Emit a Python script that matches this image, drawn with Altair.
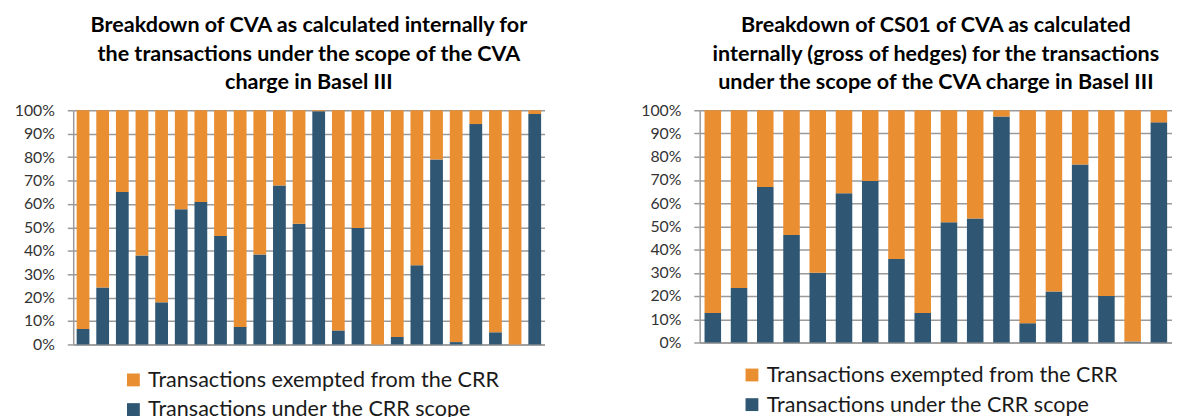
import altair as alt
import pandas as pd

EXEMPT = "Transactions exempted from the CRR"
SCOPE = "Transactions under the CRR scope"

left_title = ["Breakdown of CVA as calculated internally for",
              "the transactions under the scope of the CVA",
              "charge in Basel III"]
right_title = ["Breakdown of CS01 of CVA as calculated",
               "internally (gross of hedges) for the transactions",
               "under the scope of the CVA charge in Basel III"]

left_scope = [6.6, 24.3, 65.1, 38.0, 18.0, 57.7, 60.8, 46.3, 7.5, 38.4, 67.9, 51.5,
              99.6, 6.0, 49.7, 0.0, 3.2, 33.8, 79.0, 1.0, 94.1, 5.2, 0.0, 98.4]
left_exempt = [93.4, 75.7, 34.9, 62.0, 82.0, 42.3, 39.2, 53.7, 92.5, 61.6, 32.1, 48.5,
               0.4, 94.0, 50.3, 100.0, 96.8, 66.2, 21.0, 99.0, 5.9, 94.8, 100.0, 1.6]

right_scope = [12.7, 23.5, 67.0, 46.3, 30.0, 64.3, 69.5, 36.0, 12.7, 51.8, 53.4, 97.3,
               8.3, 22.0, 76.6, 20.0, 0.4, 94.8]
right_exempt = [87.3, 76.5, 33.0, 53.7, 70.0, 35.7, 30.5, 64.0, 87.3, 48.2, 46.6, 2.7,
                91.7, 78.0, 23.4, 80.0, 99.6, 5.2]

tick_values = [0, 10, 20, 30, 40, 50, 60, 70, 80, 90, 100]

ORANGE = "#E98E31"
BLUE = "#2F5672"
GRID = "#9a9a9a"
FONT = "Lato"


def make_df(scope, exempt):
    rows = []
    for i, (s, e) in enumerate(zip(scope, exempt)):
        rows.append({"idx": i + 1, "category": SCOPE, "value": s, "ord": 0})
        rows.append({"idx": i + 1, "category": EXEMPT, "value": e, "ord": 1})
    return pd.DataFrame(rows)


def panel(df, title, width, height, pad, title_offset, lx, ly):
    return alt.Chart(df).mark_bar().encode(
        x=alt.X("idx:O",
                scale=alt.Scale(paddingInner=pad, paddingOuter=pad / 2),
                axis=alt.Axis(labels=False, ticks=False, title=None,
                              domainColor=GRID, domainWidth=1.5)),
        y=alt.Y("value:Q", stack="zero",
                scale=alt.Scale(domain=[0, 100], nice=False),
                axis=alt.Axis(values=tick_values, labelExpr="datum.value + '%'",
                              title=None, grid=True, gridColor=GRID, gridWidth=1.5,
                              tickSize=6, tickColor=GRID, tickWidth=1.5,
                              domainColor=GRID, domainWidth=1.5,
                              labelFont=FONT, labelFontSize=16, labelColor="#333333",
                              labelPadding=13)),
        color=alt.Color("category:N",
                        scale=alt.Scale(domain=[EXEMPT, SCOPE], range=[ORANGE, BLUE]),
                        legend=alt.Legend(orient="none", legendX=lx, legendY=ly,
                                          title=None, symbolType="square",
                                          symbolSize=169, symbolStrokeWidth=0,
                                          labelFont=FONT, labelFontSize=21.8,
                                          labelLimit=600,
                                          labelColor="#1a1a1a", labelOffset=4,
                                          rowPadding=7)),
        order=alt.Order("ord:Q"),
    ).properties(
        width=width, height=height,
        title=alt.TitleParams(text=title, font=FONT, fontSize=21.8, fontWeight="bold",
                              lineHeight=28.5, anchor="middle", frame="group",
                              offset=title_offset, color="#000000"),
    )


left = panel(make_df(left_scope, left_exempt), left_title, 477, 237, 0.35, 9, 50, 262)
right = panel(make_df(right_scope, right_exempt), right_title, 478, 235, 0.37, 9, 42, 257)

chart = alt.hconcat(left, right, spacing=97).resolve_scale(color="independent", x="independent", y="independent").properties(
    padding={"left": 6, "top": 5, "right": 0, "bottom": 0}
).configure_view(stroke=None)

chart.save("out.html", embed_options={"renderer": "svg", "actions": False})
